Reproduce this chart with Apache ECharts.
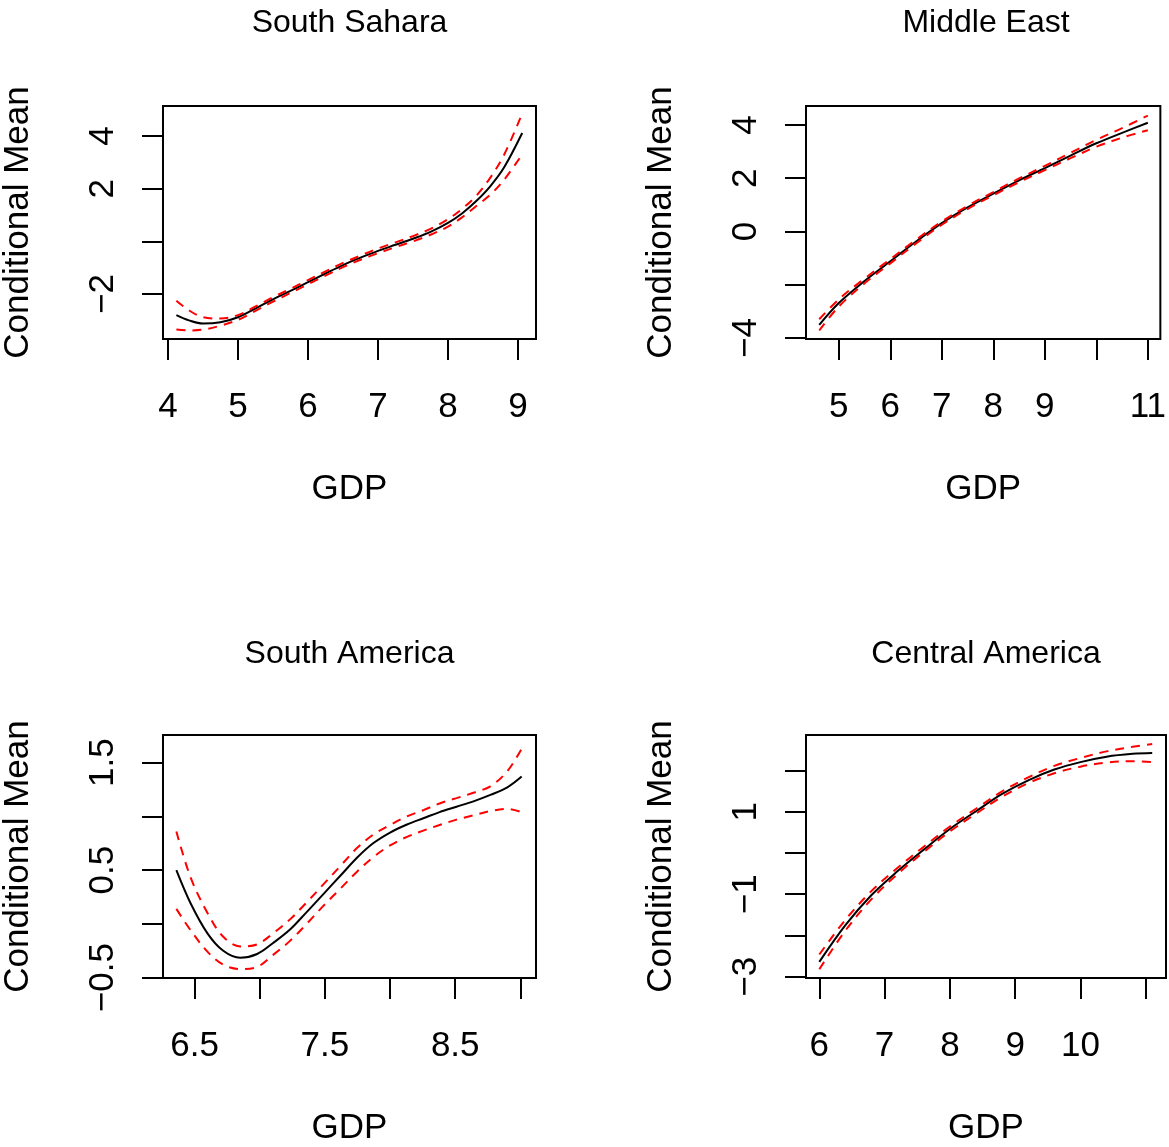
<!DOCTYPE html>
<html>
<head>
<meta charset="utf-8">
<script src="https://cdn.jsdelivr.net/npm/echarts@6/dist/echarts.min.js"></script>
<style>
html, body { margin: 0; padding: 0; background: #fff; }
#chart { width: 1169px; height: 1147px; }
</style>
</head>
<body>
<div id="chart"></div>
<script>
// South Sahara
const ssGdp   = [4.12, 4.3, 4.5, 4.75, 5, 5.25, 5.5, 5.75, 6, 6.25, 6.5, 6.75, 7, 7.25, 7.5, 7.75, 8, 8.2, 8.4, 8.6, 8.8, 9.06];
const ssFit   = [-2.80, -3.00, -3.12, -3.07, -2.88, -2.55, -2.20, -1.88, -1.55, -1.22, -0.90, -0.62, -0.36, -0.13, 0.10, 0.36, 0.70, 1.06, 1.52, 2.08, 2.80, 4.11];
const ssUpper = [-2.25, -2.62, -2.88, -2.93, -2.80, -2.47, -2.12, -1.80, -1.47, -1.14, -0.82, -0.54, -0.27, -0.04, 0.20, 0.47, 0.84, 1.23, 1.72, 2.40, 3.28, 4.85];
const ssLower = [-3.35, -3.38, -3.35, -3.20, -2.98, -2.64, -2.29, -1.96, -1.63, -1.30, -0.98, -0.70, -0.45, -0.22, 0.00, 0.25, 0.56, 0.91, 1.33, 1.76, 2.33, 3.30];

// Middle East
const meGdp   = [4.62, 5, 5.5, 6, 6.5, 7, 7.5, 8, 8.5, 9, 9.5, 10, 10.5, 11];
const meFit   = [-3.51, -2.69, -1.86, -1.12, -0.38, 0.31, 0.90, 1.42, 1.92, 2.38, 2.85, 3.31, 3.70, 4.08];
const meUpper = [-3.30, -2.55, -1.77, -1.04, -0.31, 0.37, 0.96, 1.48, 1.99, 2.46, 2.95, 3.44, 3.88, 4.35];
const meLower = [-3.72, -2.82, -1.95, -1.20, -0.45, 0.25, 0.84, 1.36, 1.85, 2.30, 2.75, 3.18, 3.52, 3.80];

// South America
const saGdp   = [6.36, 6.47, 6.6, 6.72, 6.85, 6.98, 7.1, 7.23, 7.36, 7.49, 7.62, 7.75, 7.87, 8.0, 8.13, 8.26, 8.38, 8.51, 8.64, 8.77, 8.9, 9.01];
const saFit   = [0.50, 0.19, -0.09, -0.25, -0.315, -0.28, -0.18, -0.055, 0.11, 0.28, 0.45, 0.62, 0.75, 0.85, 0.925, 0.985, 1.04, 1.09, 1.14, 1.20, 1.27, 1.37];
const saUpper = [0.86, 0.43, 0.10, -0.12, -0.21, -0.19, -0.09, 0.04, 0.20, 0.37, 0.54, 0.71, 0.83, 0.92, 1.00, 1.06, 1.12, 1.17, 1.22, 1.28, 1.42, 1.63];
const saLower = [0.14, -0.06, -0.26, -0.38, -0.42, -0.40, -0.29, -0.16, 0.00, 0.17, 0.33, 0.49, 0.62, 0.73, 0.81, 0.87, 0.92, 0.97, 1.01, 1.05, 1.07, 1.04];

// Central America
const caGdp   = [6.0, 6.4, 6.8, 7.2, 7.6, 8.0, 8.4, 8.8, 9.2, 9.6, 10.0, 10.4, 10.8, 11.1];
const caFit   = [-2.64, -1.75, -1.02, -0.44, 0.08, 0.58, 1.01, 1.43, 1.76, 2.02, 2.20, 2.33, 2.40, 2.42];
const caUpper = [-2.46, -1.62, -0.92, -0.36, 0.15, 0.64, 1.07, 1.49, 1.83, 2.11, 2.30, 2.46, 2.57, 2.64];
const caLower = [-2.82, -1.88, -1.12, -0.51, 0.02, 0.52, 0.95, 1.36, 1.69, 1.93, 2.09, 2.19, 2.22, 2.20];

// ticks and labels
const ssXTicks = [4, 5, 6, 7, 8, 9],        ssXLabels = [4, 5, 6, 7, 8, 9];
const ssYTicks = [-2, 0, 2, 4],             ssYLabels = [-2, 2, 4];
const meXTicks = [5, 6, 7, 8, 9, 10, 11],   meXLabels = [5, 6, 7, 8, 9, 11];
const meYTicks = [-4, -2, 0, 2, 4],         meYLabels = [-4, 0, 2, 4];
const saXTicks = [6.5, 7, 7.5, 8, 8.5, 9],  saXLabels = [6.5, 7.5, 8.5];
const saYTicks = [-0.5, 0, 0.5, 1, 1.5],    saYLabels = [-0.5, 0.5, 1.5];
const caXTicks = [6, 7, 8, 9, 10, 11],      caXLabels = [6, 7, 8, 9, 10];
const caYTicks = [-3, -2, -1, 0, 1, 2],     caYLabels = [-3, -1, 1];

const panelTitles = ['South Sahara', 'Middle East', 'South America', 'Central America'];

const FONT = 'Liberation Sans';
const AXIS_FS = 35;
const fmt = v => String(v).replace('-', '\u2212');

const grids = [
    { left: 163, top: 106, width: 373, height: 233 },
    { left: 806, top: 106, width: 360, height: 233 },
    { left: 163, top: 735, width: 373, height: 247 },
    { left: 806, top: 735, width: 360, height: 247 }
];
const xRanges = [[3.929, 9.257], [4.363, 11.243], [6.2575, 9.12], [5.796, 11.311]];
const yRanges = [[-3.706, 5.137], [-4.04, 4.71], [-0.503, 1.757], [-3.03, 2.857]];

const panels = [
    [ssGdp, ssFit, ssUpper, ssLower, ssXTicks, ssXLabels, ssYTicks, ssYLabels],
    [meGdp, meFit, meUpper, meLower, meXTicks, meXLabels, meYTicks, meYLabels],
    [saGdp, saFit, saUpper, saLower, saXTicks, saXLabels, saYTicks, saYLabels],
    [caGdp, caFit, caUpper, caLower, caXTicks, caXLabels, caYTicks, caYLabels]
];

const pairs = (xs, ys) => xs.map((x, i) => [x, ys[i]]);

let xAxes = [], yAxes = [], series = [], titles = [];

panels.forEach((p, i) => {
    const [gdp, fit, upper, lower, xt, xl, yt, yl] = p;
    const g = grids[i];

    titles.push({
        text: panelTitles[i],
        left: g.left + g.width / 2,
        top: i < 2 ? 7 : 638,
        textAlign: 'center',
        padding: 0,
        textStyle: { fontFamily: FONT, fontSize: 32, fontWeight: 'normal', color: '#000' }
    });

    xAxes.push({
        type: 'value', gridIndex: i,
        min: xRanges[i][0], max: xRanges[i][1],
        name: 'GDP', nameLocation: 'middle', nameGap: 133,
        nameTextStyle: { fontFamily: FONT, fontSize: AXIS_FS, color: '#000' },
        axisLine: { show: false, onZero: false },
        axisTick: { show: true, inside: false, length: 21, customValues: xt, lineStyle: { color: '#000', width: 2 } },
        axisLabel: { show: true, margin: 51, customValues: xl, formatter: fmt, fontFamily: FONT, fontSize: AXIS_FS, color: '#000' },
        splitLine: { show: false }
    });

    yAxes.push({
        type: 'value', gridIndex: i,
        min: yRanges[i][0], max: yRanges[i][1],
        name: 'Conditional Mean', nameLocation: 'middle', nameGap: 127,
        nameTextStyle: { fontFamily: FONT, fontSize: AXIS_FS, color: '#000' },
        axisLine: { show: false, onZero: false },
        axisTick: { show: true, inside: false, length: 21, customValues: yt, lineStyle: { color: '#000', width: 2 } },
        axisLabel: { show: true, rotate: 90, margin: 42, customValues: yl, formatter: fmt, fontFamily: FONT, fontSize: AXIS_FS, color: '#000' },
        splitLine: { show: false }
    });

    series.push({
        type: 'line', xAxisIndex: i, yAxisIndex: i,
        data: pairs(gdp, fit), showSymbol: false, smooth: 0.35,
        lineStyle: { color: '#000', width: 2 }
    });
    series.push({
        type: 'line', xAxisIndex: i, yAxisIndex: i,
        data: pairs(gdp, upper), showSymbol: false, smooth: 0.35,
        lineStyle: { color: '#FF0000', width: 2, type: [9, 7] }
    });
    series.push({
        type: 'line', xAxisIndex: i, yAxisIndex: i,
        data: pairs(gdp, lower), showSymbol: false, smooth: 0.35,
        lineStyle: { color: '#FF0000', width: 2, type: [9, 7] }
    });
});

const chart = echarts.init(document.getElementById('chart'));

option = {
    animation: false,
    backgroundColor: '#fff',
    title: titles,
    grid: grids.map(g => Object.assign({ show: true, borderColor: '#000', borderWidth: 2, backgroundColor: 'transparent' }, g)),
    xAxis: xAxes,
    yAxis: yAxes,
    series: series
};

chart.setOption(option);
</script>
</body>
</html>
